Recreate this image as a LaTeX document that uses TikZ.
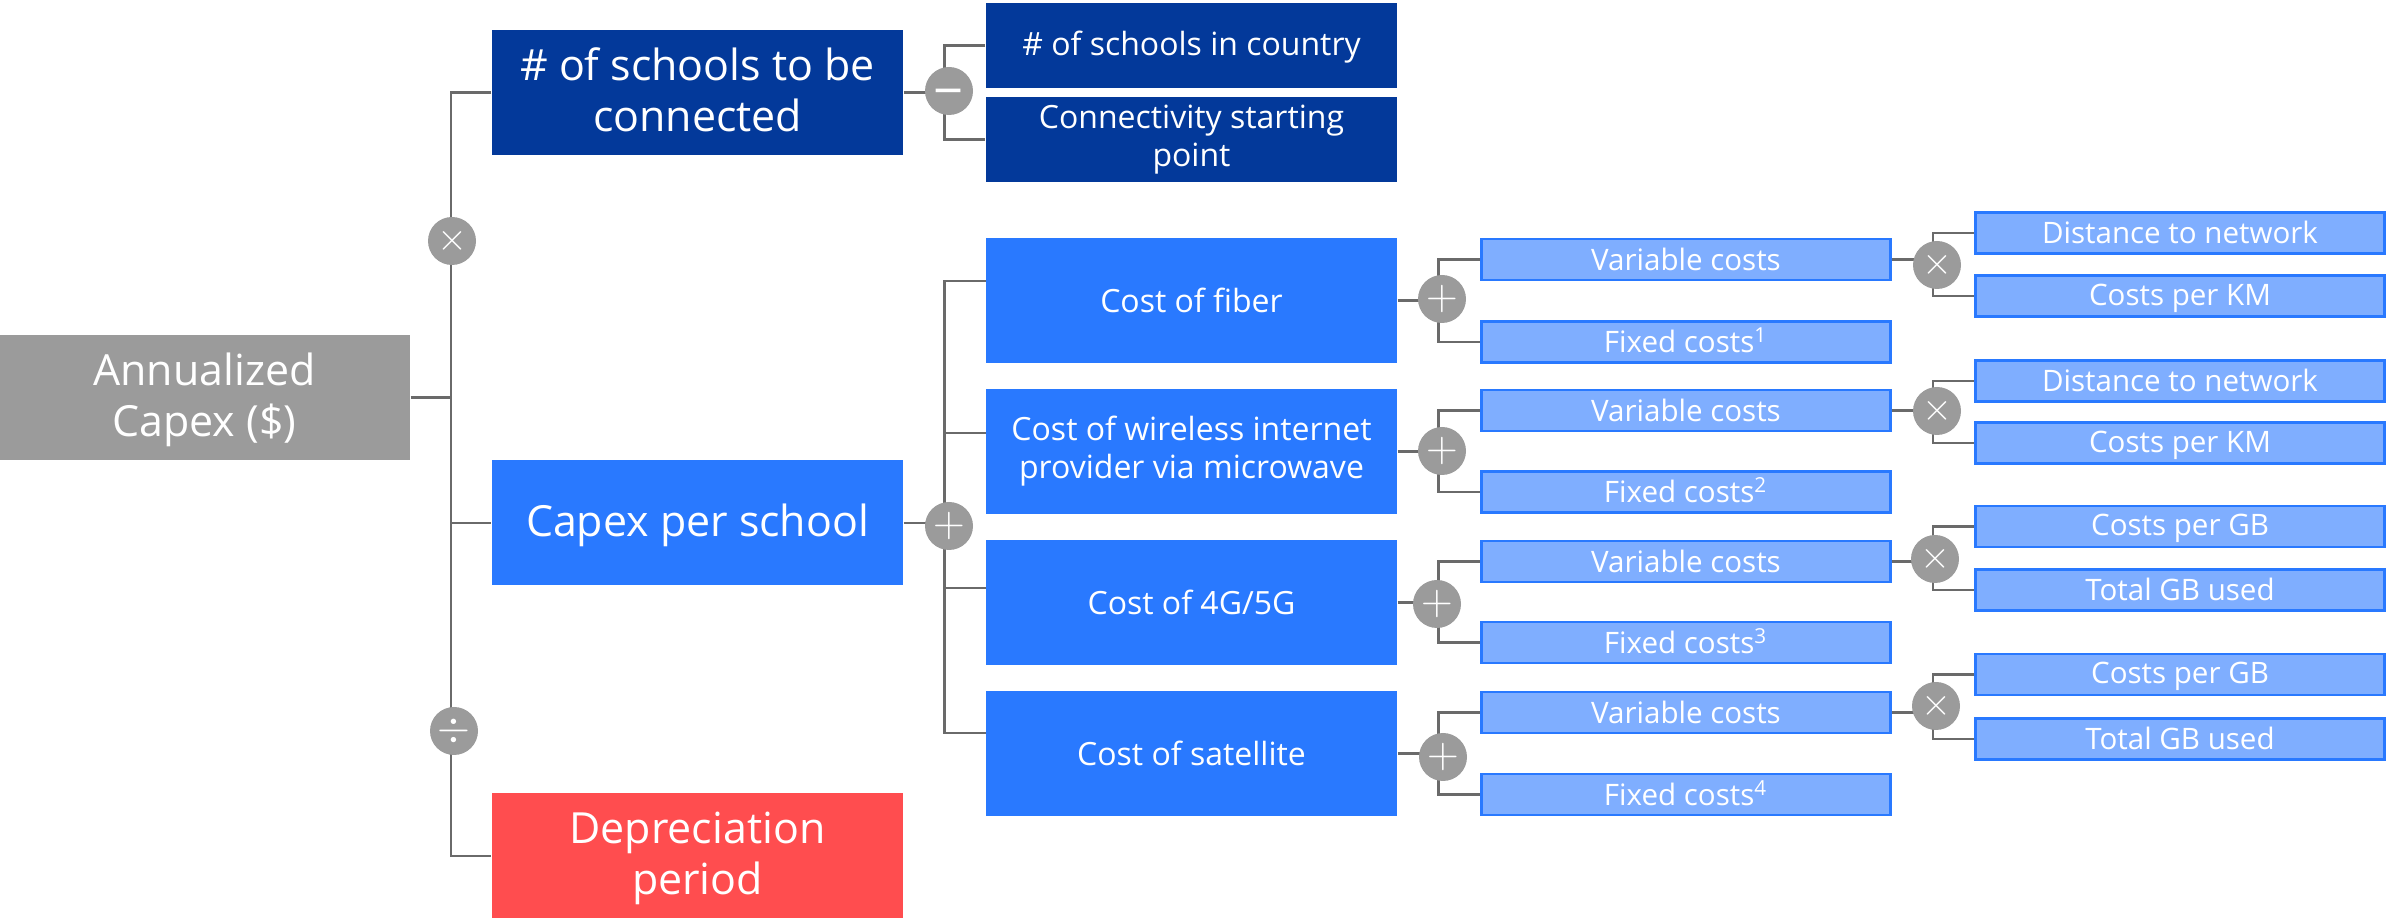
\documentclass[tikz,border=0pt]{standalone}
\usepackage{fontspec}
\setmainfont{Open Sans}
\usetikzlibrary{backgrounds}
\definecolor{rootgray}{HTML}{9B9B9B}
\definecolor{navyblue}{HTML}{03399A}
\definecolor{mainblue}{HTML}{2979FF}
\definecolor{paleblue}{HTML}{7FAEFF}
\definecolor{redbox}{HTML}{FF4D4F}
\definecolor{linegray}{HTML}{6A6A6A}
\newcommand{\boxstrut}{\rule[-0.13em]{0pt}{1em}}
\tikzset{
box/.style={text=white, align=center, inner sep=0pt, minimum width=411*0.01cm, execute at begin node=\boxstrut, execute at end node=\boxstrut},
bigbox/.style={box, minimum height=125*0.01cm, font=\fontsize{12.2}{14.4}\selectfont}, % first level of the tree
lowtext/.style={execute at begin node=\def\boxstrut{\rule{0pt}{0.87em}}}, % no depth on the last line
topbox/.style={box, fill=navyblue, minimum height=85*0.01cm, font=\fontsize{9.1}{10.8}\selectfont},
costbox/.style={box, fill=mainblue, minimum height=125*0.01cm, font=\fontsize{9.1}{10.8}\selectfont},
leafbox/.style={box, fill=paleblue, draw=mainblue, line width=0.6pt, minimum width=409*0.01cm, minimum height=41*0.01cm, font=\fontsize{8.4}{10}\selectfont}, % last two levels
op/.style={circle, fill=rootgray, text=white, inner sep=0pt, minimum size=48*0.01cm, font=\fontsize{12.5}{12.5}\selectfont},
timesop/.style={op, font=\fontsize{10.5}{10.5}\selectfont},
link/.style={draw=linegray, line width=0.6pt},
}
\begin{document}
\begin{tikzpicture}[x=0.01cm,y=-0.01cm]
        \useasboundingbox (0,0) rectangle (2387,919);
        \node[bigbox, lowtext, fill=rootgray] at (204.5,397.5) (root) {Annualized\\\smash{Capex (\$)}};
        \node[bigbox, fill=navyblue] at (697.5,92.5) (schools) {\# of schools to be\\connected};
        \node[bigbox, fill=mainblue] at (697.5,523) (capex) {Capex per school};
        \node[bigbox, lowtext, fill=redbox] at (697.5,856) (deprec) {Depreciation\\\smash{period}};
        \node[topbox] at (1191.5,45.5) (country) {\# of schools in country};
        \node[topbox] at (1191.5,139.5) (start) {Connectivity starting\\point};
        \node[costbox] at (1191.5,300.5) (fiber) {Cost of fiber};
        \node[costbox] at (1191.5,451.5) (wireless) {Cost of wireless internet\\provider via microwave};
        \node[costbox] at (1191.5,602.5) (mobile) {Cost of 4G/5G};
        \node[costbox] at (1191.5,753.5) (satellite) {Cost of satellite};
        \node[leafbox] at (1686,259.5) (var1) {Variable costs};
        \node[leafbox] at (1686,342) (fix1) {Fixed costs\textsuperscript{1}};
        \node[leafbox] at (1686,410.5) (var2) {Variable costs};
        \node[leafbox] at (1686,492) (fix2) {Fixed costs\textsuperscript{2}};
        \node[leafbox] at (1686,561.5) (var3) {Variable costs};
        \node[leafbox] at (1686,642.5) (fix3) {Fixed costs\textsuperscript{3}};
        \node[leafbox] at (1686,712.5) (var4) {Variable costs};
        \node[leafbox] at (1686,794.5) (fix4) {Fixed costs\textsuperscript{4}};
        \node[leafbox] at (2180,233) (dist1) {Distance to network};
        \node[leafbox] at (2180,296) (km1) {Costs per KM};
        \node[leafbox] at (2180,381) (dist2) {Distance to network};
        \node[leafbox] at (2180,443) (km2) {Costs per KM};
        \node[leafbox] at (2180,526.5) (gb3) {Costs per GB};
        \node[leafbox] at (2180,590) (total3) {Total GB used};
        \node[leafbox] at (2180,674.5) (gb4) {Costs per GB};
        \node[leafbox] at (2180,739) (total4) {Total GB used};
        \node[timesop] at (452,241) (times) {$\times$};
        \node[op] at (454,731) (divide) {$\div$};
        \node[op, font=\fontsize{15}{15}\selectfont] at (949,91) (minus) {\smash{\raisebox{-0.36em}{−}}};
        \node[op] at (949,526) (plus) {$+$};
        \node[op] at (1442,299) (plus1) {$+$};
        \node[op] at (1442,451) (plus2) {$+$};
        \node[op] at (1437,604) (plus3) {$+$};
        \node[op] at (1443,757) (plus4) {$+$};
        \node[timesop] at (1937,265) (times1) {$\times$};
        \node[timesop] at (1937,411) (times2) {$\times$};
        \node[timesop] at (1935,559) (times3) {$\times$};
        \node[timesop] at (1936,706) (times4) {$\times$};
        \coordinate (trunk) at (451,397.5);
        \coordinate (jminus) at (944.5,92.5);
        \coordinate (jplus) at (944.5,523);
        \coordinate (tfiber) at (986,281);
        \coordinate (twireless) at (986,433);
        \coordinate (tmobile) at (986,588);
        \coordinate (tsatellite) at (986,733);
        \coordinate (jplus1) at (1438.5,300.5);
        \coordinate (jplus2) at (1438.5,451.5);
        \coordinate (jplus3) at (1438.5,602.5);
        \coordinate (jplus4) at (1438.5,753.5);
        \coordinate (jtimes1) at (1933,259.5);
        \coordinate (jtimes2) at (1933,410.5);
        \coordinate (jtimes3) at (1933,561.5);
        \coordinate (jtimes4) at (1933,712.5);
        \begin{scope}[on background layer]
        \draw[link]
        (root) -- (trunk)
        (schools) -| (trunk) |- (deprec)
        (trunk) |- (capex)
        (schools) -- (jminus)
        (country) -| (jminus) |- (start)
        (capex) -- (jplus)
        (tfiber) -| (jplus) |- (tsatellite)
        (twireless) -| (jplus) (tmobile) -| (jplus)
        (fiber) -- (jplus1)
        (var1) -| (jplus1) |- (fix1)
        (wireless) -- (jplus2)
        (var2) -| (jplus2) |- (fix2)
        (mobile) -- (jplus3)
        (var3) -| (jplus3) |- (fix3)
        (satellite) -- (jplus4)
        (var4) -| (jplus4) |- (fix4)
        (var1) -- (jtimes1)
        (dist1) -| (jtimes1) |- (km1)
        (var2) -- (jtimes2)
        (dist2) -| (jtimes2) |- (km2)
        (var3) -- (jtimes3)
        (gb3) -| (jtimes3) |- (total3)
        (var4) -- (jtimes4)
        (gb4) -| (jtimes4) |- (total4)
        ;
        \end{scope}
    \end{tikzpicture}
\end{document}
